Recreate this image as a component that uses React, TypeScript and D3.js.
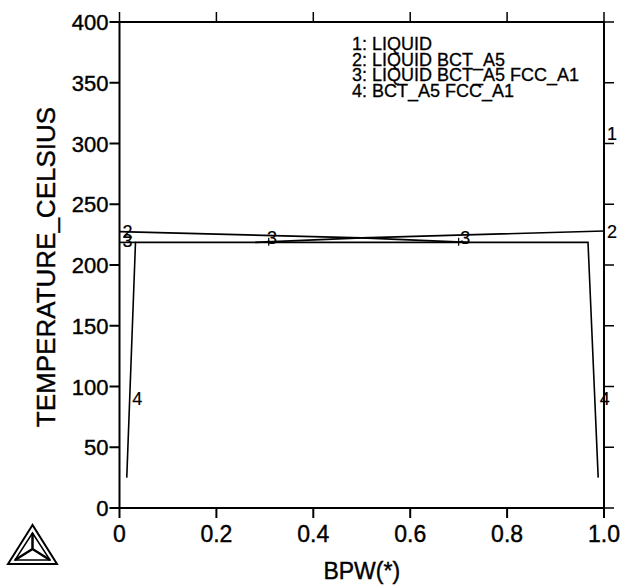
import * as d3 from 'd3';
import React from 'react';

// axis ticks
const xTicks = [0, 0.2, 0.4, 0.6, 0.8, 1.0];
const xTickLabels = ['0', '0.2', '0.4', '0.6', '0.8', '1.0'];
const yTicks = [0, 50, 100, 150, 200, 250, 300, 350, 400];

// phase boundaries, [BPW, T]
const liquidusLine = [[0, 227.5], [0.5, 222.3], [1.0, 228]];
const threePhaseLeft = [[0.28, 218.6], [0.5, 222.3]];
const threePhaseRight = [[0.72, 218.6], [0.5, 222.3]];
const solidLine = [[0.015, 25], [0.033, 218.6], [0.967, 218.6], [0.988, 25]];
const solidLeftEdge = [[0, 218.6], [0.033, 218.6]];

// region labels: [text, BPW, T]
const regionLabels = [
  ['1', 1.0, 308],
  ['2', 1.0, 227],
  ['2', 0.0, 227],
  ['3', 0.0, 220],
  ['3', 0.298, 222],
  ['3', 0.697, 222],
  ['4', 0.02, 90],
  ['4', 0.985, 90],
];
const crossMarks = [[0.308, 219.2], [0.70, 219.2]];

const legendItems = ['1: LIQUID', '2: LIQUID BCT_A5', '3: LIQUID BCT_A5 FCC_A1', '4: BCT_A5 FCC_A1'];

const W = 622, H = 585;
const margin = {left: 119.5, right: 18, top: 22, bottom: 77};
const font = "'Liberation Sans', Arial, sans-serif";

export default function App() {
  const x = d3.scaleLinear().domain([0, 1]).range([margin.left, W - margin.right]);
  const y = d3.scaleLinear().domain([0, 400]).range([H - margin.bottom, margin.top]);
  const line = d3.line<number[]>().x(d => x(d[0])).y(d => y(d[1]));
  const x0 = x(0), x1 = x(1), y0 = y(0), y1 = y(400);
  const tl = 10;

  return (
    <svg width={W} height={H} style={{position: 'absolute', left: 0, top: 0, background: '#fff'}}
      fontFamily={font}>
      {/* frame */}
      <rect x={x0} y={y1} width={x1 - x0} height={y0 - y1} fill="none" stroke="#000" strokeWidth={2} />
      <g fill="#000" stroke="#000" strokeWidth={0.4}>
        {/* bottom and top ticks */}
        {xTicks.map((t, i) => (
          <g key={'x' + i}>
            <line x1={x(t)} x2={x(t)} y1={y0} y2={y0 + tl} strokeWidth={2} />
            <line x1={x(t)} x2={x(t)} y1={y1} y2={y1 - tl} strokeWidth={1.5} />
            <text x={x(t)} y={y0 + 34} textAnchor="middle" fontSize={23}>{xTickLabels[i]}</text>
          </g>
        ))}
        {/* left and right ticks */}
        {yTicks.map((t, i) => (
          <g key={'y' + i}>
            <line x1={x0} x2={x0 - tl} y1={y(t)} y2={y(t)} strokeWidth={2} />
            <line x1={x1} x2={x1 + tl} y1={y(t)} y2={y(t)} strokeWidth={1.5} />
            <text x={x0 - 11} y={y(t) + 8} textAnchor="end" fontSize={22}>{t}</text>
          </g>
        ))}
        <text x={(x0 + x1) / 2} y={579} textAnchor="middle" fontSize={23}>BPW(*)</text>
        <text transform={`translate(55,${(y0 + y1) / 2 + 2}) rotate(-90)`} textAnchor="middle" fontSize={26}>
          TEMPERATURE_CELSIUS
        </text>
        {regionLabels.map((r, i) => (
          <text key={'r' + i} x={x(r[1] as number) + 3} y={y(r[2] as number) + 6} fontSize={18}
            strokeWidth={0.2}>{r[0]}</text>
        ))}
        {/* legend */}
        {legendItems.map((s, i) => (
          <text key={'l' + i} x={352} y={50 + i * 15.5} fontSize={18} strokeWidth={0.3}>{s}</text>
        ))}
      </g>

      {/* phase boundaries */}
      <g fill="none" stroke="#000" strokeWidth={1.6}>
        <path d={line(liquidusLine) || ''} />
        <path d={line(threePhaseLeft) || ''} />
        <path d={line(threePhaseRight) || ''} />
        <path d={line(solidLine) || ''} />
        <path d={line(solidLeftEdge) || ''} />
      </g>
      {crossMarks.map((c, i) => (
        <g key={'c' + i} stroke="#000" strokeWidth={1.2}>
          <line x1={x(c[0])} x2={x(c[0])} y1={y(c[1]) - 4} y2={y(c[1]) + 4} />
          <line x1={x(c[0]) - 4} x2={x(c[0]) + 4} y1={y(c[1])} y2={y(c[1])} />
        </g>
      ))}

      {/* logo */}
      <g fill="none" stroke="#000" strokeWidth={2} strokeLinejoin="miter">
        <path d="M32.5,525 L8,564 L57,564 Z" />
        <path d="M32.5,533 L15,560 L50,560 Z" strokeWidth={1.5} />
        <path d="M32.5,533 L32.5,549 M32.5,549 L15,560 M32.5,549 L50,560" strokeWidth={2.5} />
      </g>
    </svg>
  );
}
